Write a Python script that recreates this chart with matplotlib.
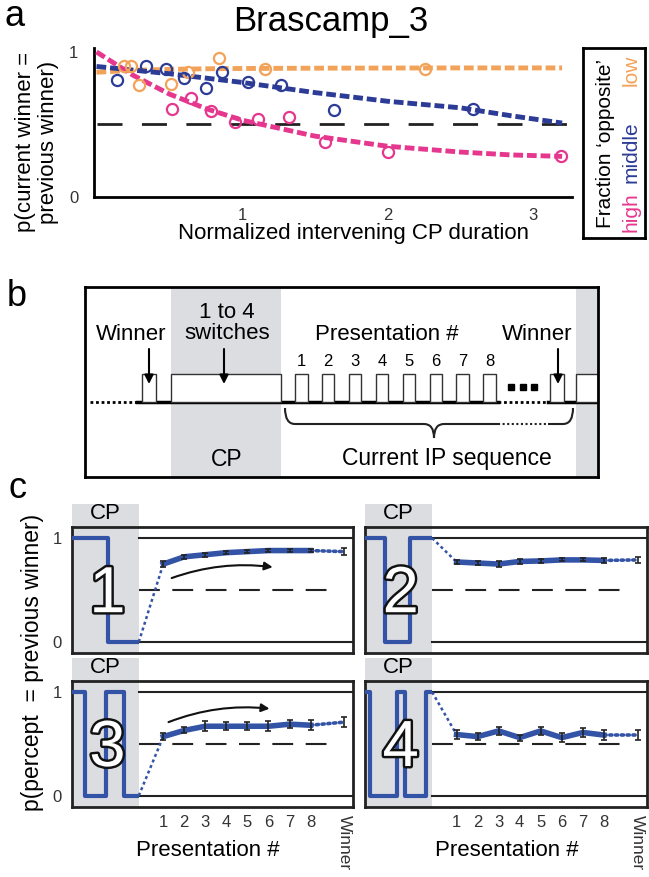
import numpy as np
import matplotlib.pyplot as plt
from matplotlib.patches import Rectangle, PathPatch
from matplotlib.path import Path
import matplotlib.patheffects as pe

plt.rcParams['font.family'] = ['Liberation Sans', 'DejaVu Sans']

W, H = 649, 877


def box(l, t, r, b):
    # pixel box -> figure fraction rect
    return [l / W, 1 - b / H, (r - l) / W, (b - t) / H]


# ---------------- panel a data ----------------
low_x = [0.19, 0.24, 0.29, 0.51, 0.63, 0.84, 1.16, 2.26]
low_y = [0.90, 0.90, 0.77, 0.78, 0.86, 0.96, 0.88, 0.88]
mid_x = [0.14, 0.34, 0.48, 0.60, 0.75, 0.86, 1.04, 1.27, 1.63, 2.59]
mid_y = [0.81, 0.90, 0.88, 0.82, 0.75, 0.86, 0.79, 0.77, 0.60, 0.61]
high_x = [0.52, 0.65, 0.79, 0.95, 1.11, 1.32, 1.57, 2.00, 3.19]
high_y = [0.61, 0.68, 0.59, 0.52, 0.54, 0.55, 0.38, 0.31, 0.28]

fit_x = [0, 0.25, 0.5, 0.75, 1.0, 1.5, 2.0, 2.5, 2.85, 3.2]
low_fit = [0.86, 0.873, 0.88, 0.884, 0.886, 0.888, 0.889, 0.89, 0.89, 0.89]
mid_fit = [0.90, 0.875, 0.85, 0.82, 0.79, 0.72, 0.66, 0.615, 0.56, 0.51]
high_fit = [1.0, 0.84, 0.71, 0.61, 0.53, 0.42, 0.35, 0.31, 0.29, 0.28]

pink = '#e5378e'
navy = '#2c3c96'
orange = '#f3a25a'

# ---------------- panel c data ----------------
pres = [1, 2, 3, 4, 5, 6, 7, 8]
winner_pos = 9.6
c1_vals = [0.75, 0.82, 0.84, 0.86, 0.87, 0.88, 0.88, 0.88]
c1_err = [0.03, 0.02, 0.02, 0.015, 0.015, 0.015, 0.015, 0.015]
c1_win, c1_win_err = 0.87, 0.03
c2_vals = [0.77, 0.76, 0.75, 0.775, 0.78, 0.79, 0.79, 0.785]
c2_err = [0.02, 0.02, 0.03, 0.02, 0.02, 0.015, 0.015, 0.02]
c2_win, c2_win_err = 0.79, 0.03
c3_vals = [0.57, 0.63, 0.67, 0.67, 0.67, 0.67, 0.69, 0.68]
c3_err = [0.03, 0.03, 0.05, 0.04, 0.04, 0.05, 0.04, 0.05]
c3_win, c3_win_err = 0.71, 0.05
c4_vals = [0.59, 0.57, 0.625, 0.56, 0.625, 0.56, 0.61, 0.585]
c4_err = [0.04, 0.03, 0.04, 0.03, 0.04, 0.04, 0.04, 0.05]
c4_win, c4_win_err = 0.585, 0.05

# switch times within the CP (schematic)
c1_switch = [-1.62]
c2_switch = [-2.42, -1.2]
c3_switch = [-2.72, -1.72, -0.85]
c4_switch = [-3.1, -1.85, -1.45, -0.45]
cp_end = -0.16

blue = '#3353a6'
grey = '#dcdde0'

fig = plt.figure(figsize=(W / 100, H / 100), dpi=100)

# ================= panel a =================
ax = fig.add_axes(box(93.6, 47.6, 572.3, 197))
ax.set_xlim(-0.02, 3.27)
ax.set_ylim(0, 1.03)
for s in ['top', 'right']:
    ax.spines[s].set_visible(False)
for s in ['left', 'bottom']:
    ax.spines[s].set_linewidth(2)
ax.set_xticks([1, 2, 3])
ax.set_yticks([0, 1])
ax.tick_params(length=0, labelsize=12, labelcolor='#333333')
ax.tick_params(axis='x', pad=8)
ax.tick_params(axis='y', pad=11)

ax.plot([0, 3.27], [0.5, 0.5], color='#222222', lw=2, dashes=(9, 7))
for fx, col in [(low_fit, orange), (mid_fit, navy), (high_fit, pink)]:
    ax.plot(fit_x, fx, color=col, lw=3.5, dashes=(2.0, 0.8), zorder=3)
for xs, ys, col in [(low_x, low_y, orange), (mid_x, mid_y, navy), (high_x, high_y, pink)]:
    ax.plot(xs, ys, 'o', ms=8, mfc='none', mec=col, mew=1.6, zorder=4)

fig.text(331 / W, 1 - 22 / H, 'Brascamp_3', fontsize=25, ha='center', va='center')
fig.text(15 / W, 1 - 17 / H, 'a', fontsize=26, ha='center', va='center')
fig.text(37 / W, 1 - 142 / H, 'p(current winner =\nprevious winner)', rotation=90,
         fontsize=16, ha='center', va='center', linespacing=1.1)
fig.text(354 / W, 1 - 234 / H, 'Normalized intervening CP duration', fontsize=16,
         ha='center', va='center')

# legend box
axl = fig.add_axes(box(583, 48, 645, 238))
axl.set_xticks([])
axl.set_yticks([])
for s in axl.spines.values():
    s.set_linewidth(2)
axl.text(0.36, 0.05, 'Fraction \u2018opposite\u2019', rotation=90, fontsize=15,
         ha='center', va='bottom', transform=axl.transAxes)
for word, yy, col in [('high', 0.03, pink), ('middle', 0.29, navy), ('low', 0.80, orange)]:
    axl.text(0.77, yy, word, rotation=90, fontsize=15, color=col,
             ha='center', va='bottom', transform=axl.transAxes)

# ================= panel b =================
axb = fig.add_axes(box(84.5, 287, 598, 477))
axb.set_xlim(84.5, 598)
axb.set_ylim(477, 287)
axb.set_xticks([])
axb.set_yticks([])
for s in axb.spines.values():
    s.set_linewidth(2)
    s.set_zorder(6)

base_y, top_y = 402, 374
axb.add_patch(Rectangle((171, 287), 110, 190, color=grey, lw=0, zorder=0))
axb.add_patch(Rectangle((576, 287), 22, 190, color=grey, lw=0, zorder=0))

# baseline
axb.plot([90, 137], [base_y, base_y], color='k', lw=2, ls=(0, (1, 1)))
axb.plot([137, 498], [base_y, base_y], color='k', lw=2.5)
axb.plot([498, 548], [base_y, base_y], color='k', lw=2, ls=(0, (1, 1)))
axb.plot([548, 598], [base_y, base_y], color='k', lw=2.5)

pulse_w = 12.5
pres_left = [295 + 26.9 * (n - 1) for n in pres]
pulses = [(142, 14), (171, 110), (550, 14), (576, 22)] + [(p, pulse_w) for p in pres_left]
for x0, w in pulses:
    axb.add_patch(Rectangle((x0, top_y), w, base_y - top_y, facecolor='white',
                            edgecolor='#333333', lw=1.0, zorder=2))
for n, x0 in zip(pres, pres_left):
    axb.text(x0 + pulse_w / 2, 362, str(n), fontsize=12, ha='center', va='center')
axb.plot([511, 522.5, 534], [387, 387, 387], 's', color='k', ms=5)

axb.text(131, 334, 'Winner', fontsize=16, ha='center', va='center')
axb.text(227, 323, '1 to 4\nswitches', fontsize=16, ha='center', va='center', linespacing=0.95)
axb.text(387, 335, 'Presentation #', fontsize=16, ha='center', va='center')
axb.text(537, 334, 'Winner', fontsize=16, ha='center', va='center')
for xa in [149, 224, 558]:
    axb.annotate('', xy=(xa, 384), xytext=(xa, 349),
                 arrowprops=dict(arrowstyle='-|>', lw=1.5, color='k', mutation_scale=13,
                                 shrinkA=0, shrinkB=0))

# brace
brace_y, tip_x, tip_y = 424, 434, 438
verts = [(285, 408), (285, brace_y), (295, brace_y), (424, brace_y),
         (tip_x, brace_y), (tip_x, tip_y), (tip_x, brace_y), (444, brace_y), (498, brace_y)]
codes = [Path.MOVETO, Path.CURVE3, Path.CURVE3, Path.LINETO,
         Path.CURVE3, Path.CURVE3, Path.CURVE3, Path.CURVE3, Path.LINETO]
axb.add_patch(PathPatch(Path(verts, codes), fill=False, lw=1.5, color='#222222'))
axb.plot([498, 548], [brace_y, brace_y], color='#222222', lw=1.5, ls=(0, (1, 1.2)))
verts2 = [(548, brace_y), (563, brace_y), (573, brace_y), (573, 408)]
codes2 = [Path.MOVETO, Path.LINETO, Path.CURVE3, Path.CURVE3]
axb.add_patch(PathPatch(Path(verts2, codes2), fill=False, lw=1.5, color='#222222'))

axb.text(227, 460, 'CP', fontsize=16.5, ha='center', va='center')
axb.text(447, 459, 'Current IP sequence', fontsize=16.5, ha='center', va='center')
fig.text(17 / W, 1 - 296 / H, 'b', fontsize=26, ha='center', va='center')

# ================= panel c =================
xl = (-3.35, 10.03)
yl = (-0.11, 1.11)


def panel(rect, switches, vals, errs, win, win_err, num, bottom, left):
    a = fig.add_axes(rect)
    a.set_xlim(*xl)
    a.set_ylim(*yl)
    for s in a.spines.values():
        s.set_linewidth(2)
        s.set_color('#222222')
    a.add_patch(Rectangle((xl[0], yl[0]), cp_end - xl[0], 1.33 - yl[0], color=grey,
                          lw=0, zorder=0, clip_on=False))
    a.text((xl[0] + cp_end) / 2, 1.235, 'CP', fontsize=16, ha='center', va='center')
    # switching trace in the CP
    xs, ys = [xl[0]], [1]
    lev = 1
    for sw in switches:
        xs += [sw, sw]
        ys += [lev, 1 - lev]
        lev = 1 - lev
    xs.append(cp_end)
    ys.append(lev)
    a.plot(xs, ys, color=blue, lw=3, solid_joinstyle='round', solid_capstyle='butt', zorder=3)
    a.plot([cp_end, xl[1]], [1, 1], color='#222222', lw=1.5)
    a.plot([cp_end, xl[1]], [0, 0], color='#222222', lw=1.5)
    a.plot([cp_end, 9.1], [0.5, 0.5], color='#222222', lw=1.5, dashes=(10, 6))
    a.plot([cp_end, pres[0]], [lev, vals[0]], color=blue, lw=1.8, ls=(0, (1.2, 1.2)))
    a.plot([pres[-1], winner_pos], [vals[-1], win], color=blue, lw=2.6,
           ls=(0, (0.6, 1.0)), dash_capstyle='round')
    a.plot(pres, vals, color=blue, lw=4, solid_joinstyle='round', zorder=4)
    a.errorbar(pres + [winner_pos], vals + [win], yerr=errs + [win_err], fmt='none',
               ecolor='#222222', elinewidth=1.2, capsize=2, capthick=1.2, zorder=5)
    a.text((xl[0] + cp_end) / 2 + 0.1, 0.45, str(num), fontsize=47, color='white',
           ha='center', va='center', zorder=6,
           path_effects=[pe.withStroke(linewidth=3.5, foreground='#111111')])
    if bottom:
        a.set_xticks(pres + [winner_pos])
        a.set_xticklabels([str(p) for p in pres] + ['Winner'])
        a.tick_params(axis='x', length=0, labelsize=12, labelcolor='#333333', pad=6)
        wl = a.get_xticklabels()[-1]
        wl.set_rotation(270)
        wl.set_va('top')
        wl.set_fontsize(12.5)
    else:
        a.set_xticks([])
    if left:
        a.set_yticks([0, 1])
        a.tick_params(axis='y', length=0, labelsize=12, labelcolor='#333333', pad=7)
    else:
        a.set_yticks([])
    return a


a1 = panel(box(71.7, 526.7, 353.3, 653.3), c1_switch, c1_vals, c1_err, c1_win, c1_win_err, 1, False, True)
panel(box(365, 526.7, 646.6, 653.3), c2_switch, c2_vals, c2_err, c2_win, c2_win_err, 2, False, False)
a3 = panel(box(71.7, 680.7, 353.3, 807), c3_switch, c3_vals, c3_err, c3_win, c3_win_err, 3, True, True)
panel(box(365, 680.7, 646.6, 807), c4_switch, c4_vals, c4_err, c4_win, c4_win_err, 4, True, False)

a1.annotate('', xy=(6.2, 0.72), xytext=(1.4, 0.615),
            arrowprops=dict(arrowstyle='-|>', lw=1.5, color='#111111', mutation_scale=12,
                            connectionstyle='arc3,rad=-0.12', shrinkA=0, shrinkB=0))
a3.annotate('', xy=(6.05, 0.84), xytext=(1.25, 0.71),
            arrowprops=dict(arrowstyle='-|>', lw=1.5, color='#111111', mutation_scale=12,
                            connectionstyle='arc3,rad=-0.12', shrinkA=0, shrinkB=0))

fig.text(208 / W, 1 - 851 / H, 'Presentation #', fontsize=16, ha='center', va='center')
fig.text(507 / W, 1 - 851 / H, 'Presentation #', fontsize=16, ha='center', va='center')

fig.text(17 / W, 1 - 488 / H, 'c', fontsize=26, ha='center', va='center')
fig.text(33 / W, 1 - 662 / H, 'p(percept  = previous winner)', rotation=90, fontsize=16.5,
         ha='center', va='center')

fig.savefig('out.png', dpi=100)
